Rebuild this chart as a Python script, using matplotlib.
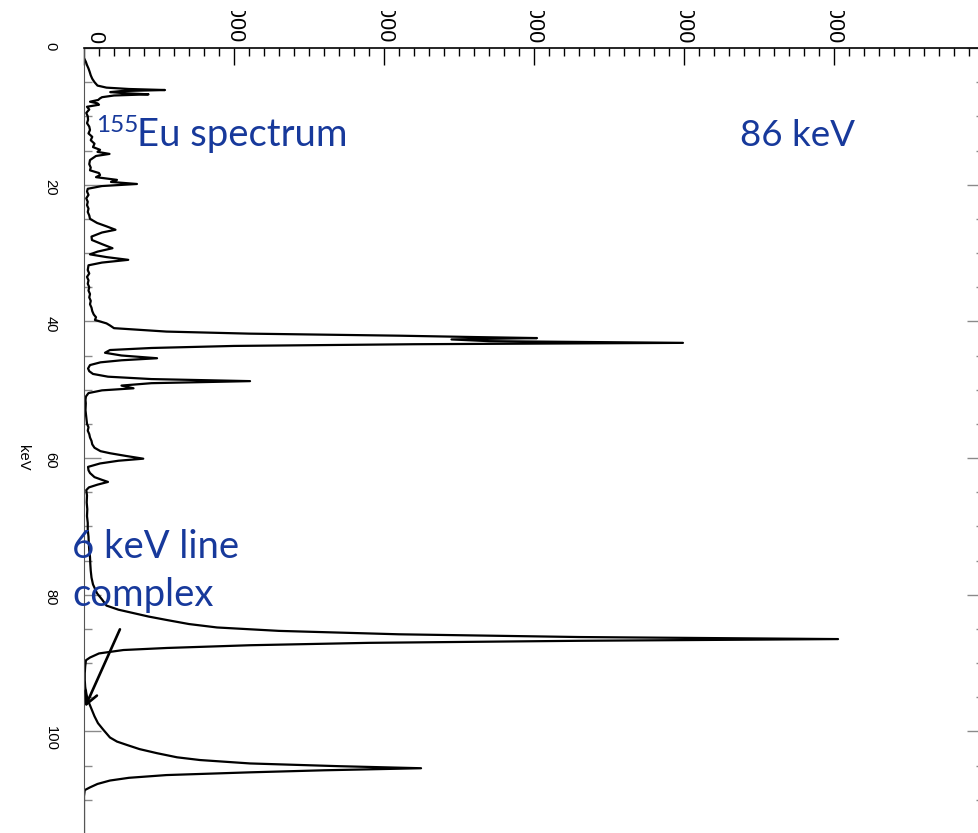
import matplotlib
matplotlib.use("Agg")
import matplotlib.pyplot as plt
import numpy as np
from matplotlib.patches import Rectangle
from matplotlib.ticker import MultipleLocator

plt.rcParams['font.family'] = ['Liberation Sans', 'DejaVu Sans']

# 155Eu gamma spectrum, energy (keV) vs counts
energy = [1.5, 2.0, 2.5, 3.0, 3.5, 4.0, 4.5, 5.0, 5.5, 5.8, 6.0, 6.15, 6.3, 6.45,
          6.6, 6.78, 6.95, 7.2, 7.4, 7.6, 7.86, 8.1, 8.3, 8.6, 9.0, 9.5, 10.0,
          10.5, 11.0, 11.5, 12.0, 12.5, 13.0, 13.5, 14.0, 14.5, 14.9, 15.2, 15.5,
          15.8, 16.4, 17.0, 17.5, 17.9, 18.3, 18.6, 18.9, 19.3, 19.6, 19.9, 20.2,
          20.6, 21.0, 21.5, 22.0, 22.5, 23.0, 23.5, 24.0, 24.5, 25.0, 25.6, 26.1,
          26.6, 27.0, 27.6, 28.1, 28.7, 29.3, 29.8, 30.2, 30.6, 31.0, 31.4, 31.8,
          32.5, 33.0, 33.5, 34.0, 34.5, 35.0, 35.5, 36.0, 36.5, 37.0, 37.5, 38.0,
          38.5, 39.0, 39.4, 39.8, 40.3, 40.6, 41.0, 41.5, 41.8, 42.1, 42.3, 42.45,
          42.65, 42.9, 43.15, 43.35, 43.6, 43.9, 44.2, 44.6, 45.0, 45.4, 45.7,
          46.0, 46.4, 46.9, 47.3, 47.7, 48.1, 48.45, 48.75, 49.05, 49.4, 49.8,
          50.1, 50.5, 51.0, 51.5, 52.0, 53.0, 54.0, 55.0, 55.5, 56.0, 56.5, 57.0,
          57.5, 58.0, 58.5, 59.0, 59.3, 59.7, 60.1, 60.4, 60.8, 61.3, 61.8, 62.2,
          62.8, 63.2, 63.5, 63.9, 64.3, 64.7, 65.5, 66.5, 67.5, 68.5, 69.5, 70.5,
          71.5, 72.5, 73.5, 74.5, 75.5, 76.5, 77.5, 78.5, 79.8, 80.7, 81.6, 82.2,
          82.7, 83.2, 83.7, 84.3, 84.8, 85.3, 85.8, 86.2, 86.5, 86.75, 87.05,
          87.4, 87.8, 88.1, 88.6, 89.2, 89.6, 90.5, 91.5, 92.5, 93.5, 94.5, 95.5,
          96.2, 96.9, 97.8, 98.8, 99.8, 100.9, 101.5, 102.0, 102.6, 103.2, 103.8,
          104.2, 104.7, 105.1, 105.4, 105.7, 106.0, 106.4, 106.8, 107.2, 107.7,
          108.2, 108.6, 109.5, 115.0, 120.0]
counts = [0, 12, 20, 30, 38, 45, 55, 70, 90, 150, 300, 540, 250, 175,
          260, 430, 200, 120, 105, 95, 40, 90, 100, 20, 35, 15, 25,
          27, 20, 35, 40, 30, 55, 45, 70, 60, 107, 90, 170,
          80, 40, 35, 45, 40, 100, 107, 80, 220, 180, 353, 120,
          25, 20, 30, 15, 25, 20, 30, 25, 35, 40, 87, 150,
          210, 120, 50, 53, 120, 190, 90, 40, 150, 295, 120, 30,
          25, 35, 20, 30, 25, 35, 30, 40, 35, 45, 40, 50,
          55, 65, 80, 73, 150, 173, 200, 550, 1100, 2100, 2600, 3020,
          2450, 2700, 3993, 2200, 1000, 450, 173, 140, 250, 487, 250,
          110, 40, 27, 35, 60, 160, 450, 1107, 450, 250, 330,
          120, 30, 13, 10, 12, 10, 15, 20, 30, 25, 35, 40,
          50, 55, 70, 110, 173, 280, 395, 230, 107, 27, 30, 40,
          70, 120, 160, 90, 33, 15, 20, 18, 22, 20, 25, 25,
          30, 32, 35, 40, 42, 45, 50, 60, 87, 120, 150, 230,
          330, 430, 550, 700, 887, 1300, 2100, 3300, 5027, 3300, 1900,
          1107, 553, 263, 100, 40, 13, 8, 5, 5, 8, 15, 27,
          40, 53, 70, 93, 130, 173, 220, 287, 370, 487, 620,
          773, 1107, 1700, 2247, 1600, 1107, 550, 300, 173, 90,
          40, 5, 0, 0, 0]

count_ticks = [0, 1000, 2000, 3000, 4000, 5000, 6000]

W, H = 979, 833
fig = plt.figure(figsize=(W / 100, H / 100), dpi=100)
ax = fig.add_axes([84 / W, (H - 868) / H, 900 / W, 820 / H])

ax.plot(counts, energy, color='black', lw=1.6)
ax.set_xlim(0, 6000)
ax.set_ylim(120, 0)

# counts axis on top, labels turned sideways
ax.xaxis.tick_top()
ax.set_xticks(count_ticks)
ax.set_xticklabels([str(c) for c in count_ticks])
ax.xaxis.set_minor_locator(MultipleLocator(100))
ax.yaxis.set_major_locator(MultipleLocator(20))
ax.yaxis.set_minor_locator(MultipleLocator(5))

ax.tick_params(axis='x', which='both', direction='in', top=True, bottom=False,
               color='black')
ax.tick_params(axis='x', which='major', length=12, width=1, labelrotation=-90,
               pad=3.5, labelsize=15.5)
ax.tick_params(axis='x', which='minor', length=6, width=1)
ax.tick_params(axis='y', which='both', direction='in', left=True, right=True,
               color='#8a8a8a', labelcolor='black')
ax.tick_params(axis='y', which='major', length=12, width=1, labelrotation=-90,
               pad=19, labelsize=10.6)
ax.tick_params(axis='y', which='minor', length=6, width=1)

for i, t in enumerate(ax.xaxis.get_major_ticks()):
    t.label2.set_fontfamily(['Liberation Sans Narrow', 'Liberation Sans'])
    if i == 0:
        t.label2.set_horizontalalignment('left')

ax.set_ylabel('keV', rotation=-90, fontsize=10.6, va='center')
ax.yaxis.set_label_coords(-61 / 900, 0.5)

ax.spines['top'].set_color('black')
ax.spines['top'].set_linewidth(1.2)
ax.spines['left'].set_color('#555555')
ax.spines['right'].set_visible(False)
ax.spines['bottom'].set_visible(False)

# the sheet is trimmed just above the count labels
fig.add_artist(Rectangle((0, 1 - 11 / H), 1, 11 / H, transform=fig.transFigure,
                         facecolor='white', edgecolor='none', zorder=3))

blue = '#17399b'
note = dict(color=blue, family=['Lato', 'DejaVu Sans'], ha='left', va='baseline')

def fpos(x, y):
    return x / W, 1 - y / H

fig.text(*fpos(96, 132), '155', fontsize=17.5, **note)
fig.text(*fpos(137, 146), 'Eu spectrum', fontsize=27.5, **note)
fig.text(*fpos(740, 146), '86 keV', fontsize=26.5, **note)
fig.text(*fpos(72, 558), '6 keV line', fontsize=27.5, **note)
fig.text(*fpos(72, 606), 'complex', fontsize=27.5, **note)

ax.annotate('', xy=(0, 96.8), xytext=(247, 84.7),
            arrowprops=dict(arrowstyle='->', color='black', lw=1.9,
                            mutation_scale=22))

fig.savefig('out.png', dpi=100)
